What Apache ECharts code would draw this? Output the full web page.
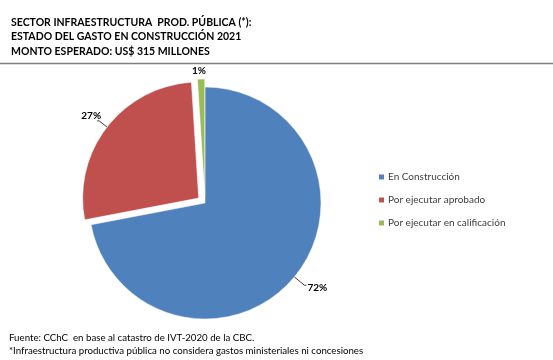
<!DOCTYPE html>
<html><head><meta charset="utf-8">
<script src="https://cdn.jsdelivr.net/npm/echarts@6/dist/echarts.min.js"></script>
<style>html,body{margin:0;padding:0;background:#fff}#c{width:553px;height:360px}</style>
</head><body><div id="c"></div>
<script>
const categories = ["En Construcción", "Por ejecutar aprobado", "Por ejecutar en calificación"];
const values = [72, 27, 1];
const exploded = [false, true, true];
const colors = ["#4F81BD", "#C0504D", "#9BBB59"];
const titleLines = ["SECTOR INFRAESTRUCTURA  PROD. PÚBLICA (*):", "ESTADO DEL GASTO EN CONSTRUCCIÓN 2021", "MONTO ESPERADO: US$ 315 MILLONES"];
const footLines = ["Fuente: CChC  en base al catastro de IVT-2020 de la CBC.", "*Infraestructura productiva pública no considera gastos ministeriales ni concesiones"];

const chart = echarts.init(document.getElementById('c'), null, {renderer: 'canvas'});
const font = "Lato, 'Liberation Sans', sans-serif";
const lineLen = [13, 10, 4];
chart.setOption({
  animation: false,
  backgroundColor: '#fff',
  title: [
    {text: titleLines.join('\n'), left: 6, top: 10, textStyle: {fontFamily: font, fontSize: 10.5, fontWeight: 'bold', color: '#000', lineHeight: 14.5}},
    {text: footLines.join('\n'), left: 4, top: 326, textStyle: {fontFamily: font, fontSize: 9.7, fontWeight: 'normal', color: '#000', lineHeight: 13.5}}
  ],
  graphic: [{type: 'line', shape: {x1: 0, y1: 63.5, x2: 553, y2: 63.5}, style: {stroke: '#808080', lineWidth: 1.5}}],
  legend: {
    orient: 'vertical', left: 377, top: 172, padding: 0, itemWidth: 7, itemHeight: 7, itemGap: 13,
    icon: 'rect', data: categories,
    textStyle: {fontFamily: font, fontSize: 10, color: '#404040', padding: [0, 0, 0, -2]}
  },
  series: [{
    type: 'pie', center: [205, 203], radius: [0, 116], startAngle: 90, clockwise: true,
    selectedMode: 'multiple', selectedOffset: 8,
    itemStyle: {borderColor: '#fff', borderWidth: 0.5},
    label: {show: true, position: 'outside', formatter: '{d}%', fontFamily: font, fontSize: 10, fontWeight: 'bold', color: '#000', distanceToLabelLine: 1},
    labelLine: {show: true, length: 10, length2: 2, lineStyle: {color: '#404040', width: 1}},
    labelLayout: function (p) {
      if (p.dataIndex === 2) return {dx: 8, dy: -4};
      if (p.dataIndex === 1) return {dx: 5, dy: -5};
      if (p.dataIndex === 0) return {dy: 3};
      return {};
    },
    emphasis: {disabled: true},
    data: categories.map((n, i) => ({
      name: n, value: values[i], selected: exploded[i], itemStyle: {color: colors[i]},
      labelLine: {show: i !== 2, length: lineLen[i], length2: 2}
    }))
  }]
});
</script></body></html>
